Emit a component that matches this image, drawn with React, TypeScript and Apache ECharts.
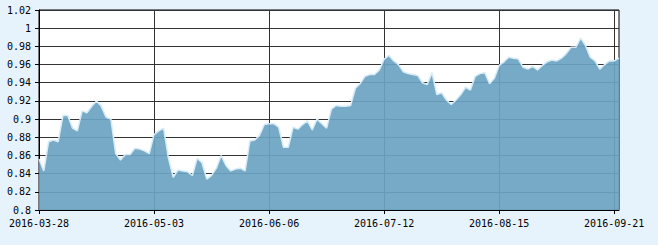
import { useEffect, useRef } from "react";
import * as echarts from "echarts";

// Net value series, one value per trading day starting 2016-03-28
const navValues = [
  0.856, 0.843, 0.875, 0.877, 0.875, 0.904, 0.904, 0.890, 0.887, 0.909,
  0.907, 0.914, 0.920, 0.914, 0.902, 0.900, 0.862, 0.855, 0.861, 0.861,
  0.868, 0.867, 0.865, 0.862, 0.883, 0.887, 0.890, 0.857, 0.836, 0.844,
  0.843, 0.842, 0.838, 0.857, 0.852, 0.834, 0.838, 0.846, 0.860, 0.849,
  0.843, 0.845, 0.846, 0.843, 0.876, 0.877, 0.882, 0.894, 0.895, 0.895,
  0.891, 0.869, 0.869, 0.891, 0.889, 0.894, 0.898, 0.888, 0.900, 0.895,
  0.890, 0.911, 0.915, 0.914, 0.914, 0.915, 0.934, 0.939, 0.947, 0.949,
  0.949, 0.954, 0.966, 0.970, 0.964, 0.960, 0.952, 0.950, 0.949, 0.948,
  0.940, 0.938, 0.951, 0.927, 0.929, 0.921, 0.916, 0.921, 0.927, 0.935,
  0.932, 0.947, 0.950, 0.951, 0.939, 0.945, 0.959, 0.963, 0.968, 0.967,
  0.966, 0.957, 0.955, 0.958, 0.954, 0.959, 0.963, 0.965, 0.964, 0.967,
  0.972, 0.979, 0.979, 0.989, 0.981, 0.968, 0.964, 0.955, 0.960, 0.964,
  0.964, 0.967,
];

const startDate = "2016-03-28";
// Non-trading / missing days in the period
const closedDays = [
  "2016-04-04", "2016-05-02", "2016-06-09", "2016-06-10",
  "2016-09-14", "2016-09-15", "2016-09-16",
];

const yMin = 0.8;
const yMax = 1.02;
const yStep = 0.02;
const labelEvery = 24;

function buildDates(count: number): string[] {
  const out: string[] = [];
  const [y, m, d] = startDate.split("-").map(Number);
  let t = Date.UTC(y, m - 1, d);
  while (out.length < count) {
    const dt = new Date(t);
    const wd = dt.getUTCDay();
    const s = dt.toISOString().slice(0, 10);
    if (wd !== 0 && wd !== 6 && !closedDays.includes(s)) out.push(s);
    t += 86400000;
  }
  return out;
}

const dates = buildDates(navValues.length);

export default function App() {
  const ref = useRef<HTMLDivElement>(null);
  useEffect(() => {
    if (!ref.current) return;
    const chart = echarts.init(ref.current, undefined, { renderer: "svg" });
    const font = "'DejaVu Sans Mono', monospace";
    chart.setOption({
      animation: false,
      backgroundColor: "#e7f3fc",
      grid: {
        left: 39,
        right: 39,
        top: 10,
        bottom: 35,
        show: true,
        backgroundColor: "#ffffff",
        borderColor: "#000000",
        borderWidth: 1,
        containLabel: false,
        outerBoundsMode: "none",
      },
      xAxis: {
        type: "category",
        boundaryGap: false,
        data: dates,
        axisLine: { show: true, lineStyle: { color: "#000", width: 1 } },
        axisTick: { show: true, interval: labelEvery - 1, length: 4, lineStyle: { color: "#000" } },
        axisLabel: {
          interval: labelEvery - 1,
          color: "#000",
          fontFamily: font,
          fontSize: 10,
          margin: 8,
          hideOverlap: false,
        },
        splitLine: { show: true, interval: labelEvery - 1, lineStyle: { color: "#333", width: 1 } },
      },
      yAxis: {
        type: "value",
        min: yMin,
        max: yMax,
        interval: yStep,
        axisLine: { show: true, lineStyle: { color: "#000", width: 1 } },
        axisTick: { show: true, length: 4, lineStyle: { color: "#000" } },
        axisLabel: {
          color: "#000",
          fontFamily: font,
          fontSize: 10,
          margin: 8,
          formatter: (v: number) => String(parseFloat(v.toFixed(2))),
        },
        splitLine: { show: true, lineStyle: { color: "#333", width: 1 } },
      },
      series: [
        {
          type: "line",
          data: navValues,
          symbol: "none",
          showSymbol: false,
          lineStyle: { color: "#d6ebf8", width: 1.5 },
          areaStyle: { color: "#6ba3c1", opacity: 0.92 },
        },
      ],
    });
    return () => chart.dispose();
  }, []);
  return (
    <div
      ref={ref}
      style={{ position: "fixed", left: 0, top: 0, width: 658, height: 245 }}
    />
  );
}
